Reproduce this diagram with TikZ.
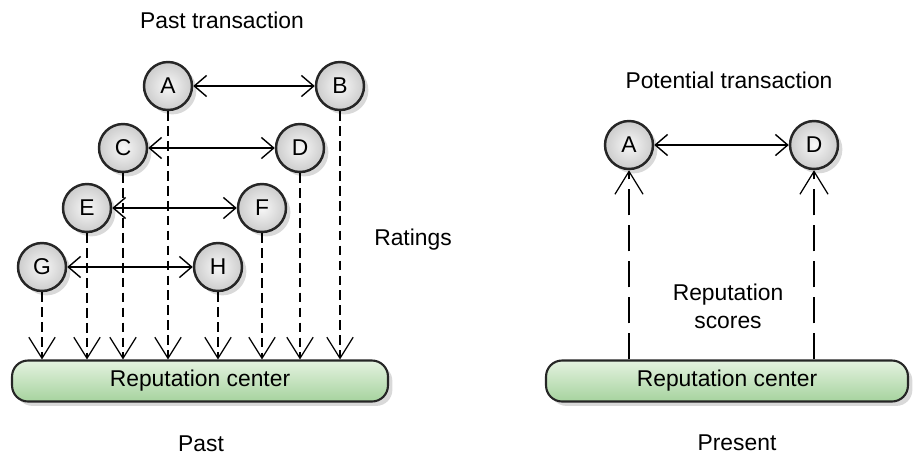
\documentclass[tikz,border=0pt]{standalone}
\usepackage{fontspec}
\setmainfont{Liberation Sans}
\usetikzlibrary{arrows.meta,shadows}

\definecolor{repgreentop}{HTML}{E4F2E0}
\definecolor{repgreenbot}{HTML}{A6D39E}

\begin{document}
\begin{tikzpicture}[x=0.02cm,y=-0.02cm,
    font=\fontsize{13}{16}\selectfont,
    peer/.style={circle,draw=black!85,line width=1.4pt,minimum size=0.96cm,inner sep=0pt,
      inner color=gray!6,outer color=gray!40,
      drop shadow={shadow xshift=2.5pt,shadow yshift=-2.5pt,opacity=0.3}},
    repbox/.style={draw=black!85,line width=1.2pt,rounded corners=0.32cm,minimum height=0.82cm,
      top color=repgreentop,bottom color=repgreenbot,
      drop shadow={shadow xshift=2.5pt,shadow yshift=-2.5pt,opacity=0.3}},
    deal/.style={line width=0.8pt,{Straight Barb[length=7pt,width=12pt]}-{Straight Barb[length=7pt,width=12pt]}},
    rating/.style={line width=0.7pt,dash pattern=on 5.5pt off 3pt,-{Straight Barb[length=12pt,width=15pt]}},
    score/.style={line width=0.7pt,dash pattern=on 15pt off 5.5pt,-{Straight Barb[length=13pt,width=16pt]}}]
  \useasboundingbox (0,0) rectangle (915,457);

  % past
  \node (pasttitle) at (222,20) {Past transaction};
  \node[peer] (a) at (168,86) {A};
  \node[peer] (b) at (340,86) {B};
  \node[peer] (c) at (123,148) {C};
  \node[peer] (d) at (300,148) {D};
  \node[peer] (e) at (87,208) {E};
  \node[peer] (f) at (262,208) {F};
  \node[peer] (g) at (42,267) {G};
  \node[peer] (h) at (218,267) {H};
  \node[repbox,minimum width=7.52cm] (pastc) at (200,381) {Reputation center};
  \node (ratings) at (413,240) {Ratings};
  \node (past) at (201,444) {Past};

  \draw[deal] (a) -- (b);
  \draw[deal] (c) -- (d);
  \draw[deal] (e) -- (f);
  \draw[deal] (g) -- (h);
  \foreach \p in {a,b,c,d,e,f,g,h}
    \draw[rating] (\p.south) -- (\p.south |- pastc.north);

  % present
  \node (pottitle) at (729,80) {Potential transaction};
  \node[peer] (pa) at (629,145) {A};
  \node[peer] (pd) at (814,145) {D};
  \node[repbox,minimum width=7.24cm] (nowc) at (727,381) {Reputation center};
  \node[align=center] (scores) at (728,306) {Reputation\\scores};
  \node (present) at (737,443) {Present};

  \draw[deal] (pa) -- (pd);
  \draw[score] (pa.south |- nowc.north) -- (pa.south);
  \draw[score] (pd.south |- nowc.north) -- (pd.south);
\end{tikzpicture}
\end{document}
